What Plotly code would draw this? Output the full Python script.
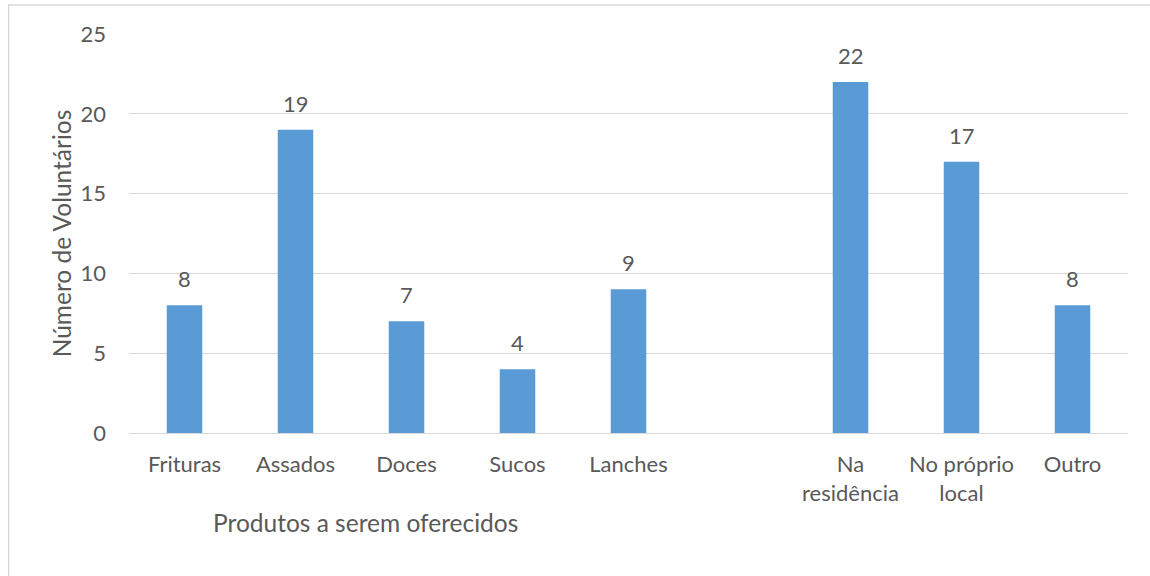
import plotly.graph_objects as go

# Categories (empty slot separates the two groups)
categories = ["Frituras", "Assados", "Doces", "Sucos", "Lanches",
              "Na<br>residência", "No próprio<br>local", "Outro"]
positions = [0, 1, 2, 3, 4, 6, 7, 8]
values = [8, 19, 7, 4, 9, 22, 17, 8]
y_ticks = [0, 5, 10, 15, 20, 25]

TEXT = "#595959"
BAR = "#5B9BD5"
GRID = "#D9D9D9"
FONT = "Lato"
TICK_SIZE = 22
TITLE_SIZE = 24.5

# plot area in pixels
L, R, T, B = 128.5, 1128.5, 34, 433
W, H = R - L, B - T

fig = go.Figure()
fig.add_trace(go.Bar(
    x=positions, y=values, width=0.32,
    marker=dict(color=BAR, line=dict(width=0)),
    hoverinfo="skip",
))

# value labels above each bar
for xp, v in zip(positions, values):
    fig.add_annotation(x=xp, y=v, text=str(v), showarrow=False,
                       yanchor="bottom", yshift=11,
                       font=dict(family=FONT, size=TICK_SIZE, color=TEXT))

# x-axis title under the first group
fig.add_annotation(x=(365 - L) / W, xref="paper", xanchor="center",
                   y=-(522 - B) / H, yref="paper", yanchor="middle",
                   text="Produtos a serem oferecidos", showarrow=False,
                   font=dict(family=FONT, size=TITLE_SIZE, color=TEXT))

fig.update_layout(
    width=1150, height=576,
    margin=dict(l=L, r=1150 - R, t=T, b=576 - B),
    paper_bgcolor="white", plot_bgcolor="white",
    showlegend=False,
    font=dict(family=FONT, color=TEXT),
    xaxis=dict(
        range=[-0.5, 8.5], tickvals=positions, ticktext=categories,
        showgrid=False, zeroline=False, showline=False, ticks="",
        tickfont=dict(family=FONT, size=TICK_SIZE, color=TEXT),
        ticklabelstandoff=16, fixedrange=True,
    ),
    yaxis=dict(
        range=[0, 25], tickvals=y_ticks, showgrid=True, gridcolor=GRID, gridwidth=1.3,
        zeroline=True, zerolinecolor=GRID, zerolinewidth=1.3,
        showline=False, ticks="",
        tickfont=dict(family=FONT, size=TICK_SIZE, color=TEXT),
        ticklabelstandoff=22,
        title=dict(text="Número de Voluntários",
                   font=dict(family=FONT, size=TITLE_SIZE, color=TEXT), standoff=1),
        fixedrange=True,
    ),
)

# outer chart frame
fig.add_shape(type="rect", xref="paper", yref="paper",
              x0=(8 - L) / W, x1=(1160 - L) / W,
              y0=-(590 - B) / H, y1=(B - 5) / H,
              line=dict(color=GRID, width=1.3), fillcolor="rgba(0,0,0,0)", layer="below")

fig.write_html("out.html")
